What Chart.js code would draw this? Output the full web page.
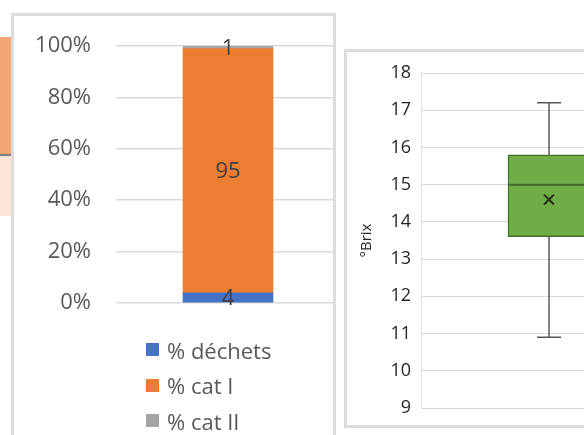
<!DOCTYPE html>
<html lang="fr">
<head>
<meta charset="utf-8">
<script src="https://cdn.jsdelivr.net/npm/chart.js@4.4.0/dist/chart.umd.min.js"></script>
<style>
  body { margin: 0; width: 584px; height: 435px; overflow: hidden; background: #fff; position: relative; font-family: "Open Sans", sans-serif; }
  .abs { position: absolute; }
  #tabOrange { left: 0; top: 37px; width: 11px; height: 117px; background: #F4A672; }
  #tabLine { left: 0; top: 154px; width: 11px; height: 2px; background: #7F7F7F; }
  #tabPeach { left: 0; top: 156px; width: 11px; height: 60px; background: #FBE5D6; }
  #cadre1 { left: 11px; top: 13px; width: 319px; height: 440px; border: 3px solid #DCDCDC; }
  #cadre2 { left: 344px; top: 49px; width: 260px; height: 373px; border: 3px solid #DCDCDC; }
  #zone1 { left: 14px; top: 16px; width: 319px; height: 419px; overflow: hidden; }
  #zone2 { left: 347px; top: 52px; width: 237px; height: 373px; overflow: hidden; }
  canvas { display: block; }
  #legende { left: 146px; top: 332px; margin: 0; padding: 0; list-style: none; font-size: 22px; color: #595959; }
  #legende li { height: 35.5px; display: flex; align-items: center; }
  #legende span.carre { width: 13px; height: 13px; margin-right: 8px; display: inline-block; }
</style>
</head>
<body>
<div class="abs" id="tabOrange"></div>
<div class="abs" id="tabLine"></div>
<div class="abs" id="tabPeach"></div>
<div class="abs" id="cadre1"></div>
<div class="abs" id="cadre2"></div>
<div class="abs" id="zone1"><canvas id="graphCategories" width="326" height="419"></canvas></div>
<div class="abs" id="zone2"><canvas id="graphBrix" width="339" height="373"></canvas></div>
<ul class="abs" id="legende"></ul>

<script>
// Données - répartition (%)
const categories = [""];
const dechets = [4];
const catI = [95];
const catII = [1];
const ticksPourcent = [0, 20, 40, 60, 80, 100];

// Données - boîte à moustaches °Brix
const brixMin = [10.9];
const brixQ1 = [13.6];
const brixMediane = [15.0];
const brixQ3 = [15.8];
const brixMax = [17.2];
const brixMoyenne = [14.6];

// étiquettes de valeurs au centre des segments
const etiquettes = {
  id: "etiquettes",
  afterDatasetsDraw(chart) {
    const ctx = chart.ctx;
    ctx.save();
    ctx.font = "22px 'Open Sans'";
    ctx.fillStyle = "#404040";
    ctx.textAlign = "center";
    ctx.textBaseline = "middle";
    chart.data.datasets.forEach((ds, i) => {
      chart.getDatasetMeta(i).data.forEach((el, j) => {
        ctx.fillText(ds.data[j], el.x, (el.y + el.base) / 2 + 1);
      });
    });
    ctx.restore();
  }
};

const graph1 = new Chart(document.getElementById("graphCategories"), {
  type: "bar",
  data: {
    labels: categories,
    datasets: [
      { label: "% déchets", data: dechets, backgroundColor: "#4472C4" },
      { label: "% cat I", data: catI, backgroundColor: "#ED7D31" },
      { label: "% cat II", data: catII, backgroundColor: "#A5A5A5" }
    ]
  },
  options: {
    responsive: false,
    animation: false,
    barThickness: 90,
    layout: { padding: { top: 30, bottom: 132, left: 0, right: 0 } },
    plugins: { legend: { display: false }, tooltip: { enabled: false } },
    scales: {
      x: { stacked: true, display: false },
      y: {
        stacked: true, min: 0, max: 100,
        afterBuildTicks: s => { s.ticks = ticksPourcent.map(v => ({ value: v })); },
        afterFit: s => { s.width = 102; },
        border: { display: false },
        // tickLength invisible pour écarter les libellés sans décaler la zone
        grid: { color: "#D9D9D9", lineWidth: 1.5, drawTicks: true, tickLength: 25, tickColor: "rgba(0,0,0,0)" },
        ticks: { padding: 0, color: "#595959", font: { family: "Open Sans", size: 22 }, callback: v => v + "%" }
      }
    }
  },
  plugins: [etiquettes]
});

// Légende verticale
const legende = document.getElementById("legende");
graph1.data.datasets.forEach(ds => {
  const li = document.createElement("li");
  const carre = document.createElement("span");
  carre.className = "carre";
  carre.style.background = ds.backgroundColor;
  li.appendChild(carre);
  li.appendChild(document.createTextNode(ds.label));
  legende.appendChild(li);
});

// moustaches + médiane
const moustaches = {
  id: "moustaches",
  afterDatasetsDraw(chart) {
    const ctx = chart.ctx;
    const y = chart.scales.y;
    const boite = chart.getDatasetMeta(0).data;
    ctx.save();
    boite.forEach((el, j) => {
      const x = el.x;
      ctx.strokeStyle = "#595959";
      ctx.lineWidth = 1.5;
      ctx.beginPath();
      ctx.moveTo(x, y.getPixelForValue(brixQ3[j]));
      ctx.lineTo(x, y.getPixelForValue(brixMax[j]));
      ctx.moveTo(x, y.getPixelForValue(brixQ1[j]));
      ctx.lineTo(x, y.getPixelForValue(brixMin[j]));
      ctx.moveTo(x - 12, y.getPixelForValue(brixMax[j]));
      ctx.lineTo(x + 12, y.getPixelForValue(brixMax[j]));
      ctx.moveTo(x - 12, y.getPixelForValue(brixMin[j]));
      ctx.lineTo(x + 12, y.getPixelForValue(brixMin[j]));
      ctx.stroke();
      ctx.strokeStyle = "#3E6B28";
      ctx.lineWidth = 2;
      ctx.beginPath();
      ctx.moveTo(el.x - el.width / 2, y.getPixelForValue(brixMediane[j]));
      ctx.lineTo(el.x + el.width / 2, y.getPixelForValue(brixMediane[j]));
      ctx.stroke();
    });
    ctx.restore();
  }
};

new Chart(document.getElementById("graphBrix"), {
  type: "bar",
  data: {
    labels: categories,
    datasets: [
      {
        label: "boîte",
        data: brixQ1.map((q, i) => [q, brixQ3[i]]),
        backgroundColor: "#70AD47",
        borderColor: "#41712B",
        borderWidth: 1.5,
        borderSkipped: false,
        barThickness: 82,
        order: 2
      },
      {
        type: "line",
        label: "moyenne",
        data: brixMoyenne,
        showLine: false,
        pointStyle: "crossRot",
        pointRadius: 7,
        borderColor: "#1E2E14",
        borderWidth: 2,
        order: 1
      }
    ]
  },
  options: {
    responsive: false,
    animation: false,
    layout: { padding: { top: 21, bottom: 17, left: 7, right: 7 } },
    plugins: { legend: { display: false }, tooltip: { enabled: false } },
    scales: {
      x: { display: false },
      y: {
        min: 9, max: 18,
        afterFit: s => { s.width = 67; },
        border: { display: true, color: "#E3E3E3", width: 1 },
        grid: { color: "#D9D9D9", lineWidth: 1, drawTicks: true, tickLength: 10, tickColor: "rgba(0,0,0,0)" },
        ticks: { stepSize: 1, padding: 0, color: "#262626", font: { family: "Open Sans", size: 18 } },
        title: { display: true, text: "°Brix", color: "#262626", font: { family: "Open Sans", size: 15 }, padding: { top: 4, bottom: 4 } }
      }
    }
  },
  plugins: [moustaches]
});
</script>
</body>
</html>
